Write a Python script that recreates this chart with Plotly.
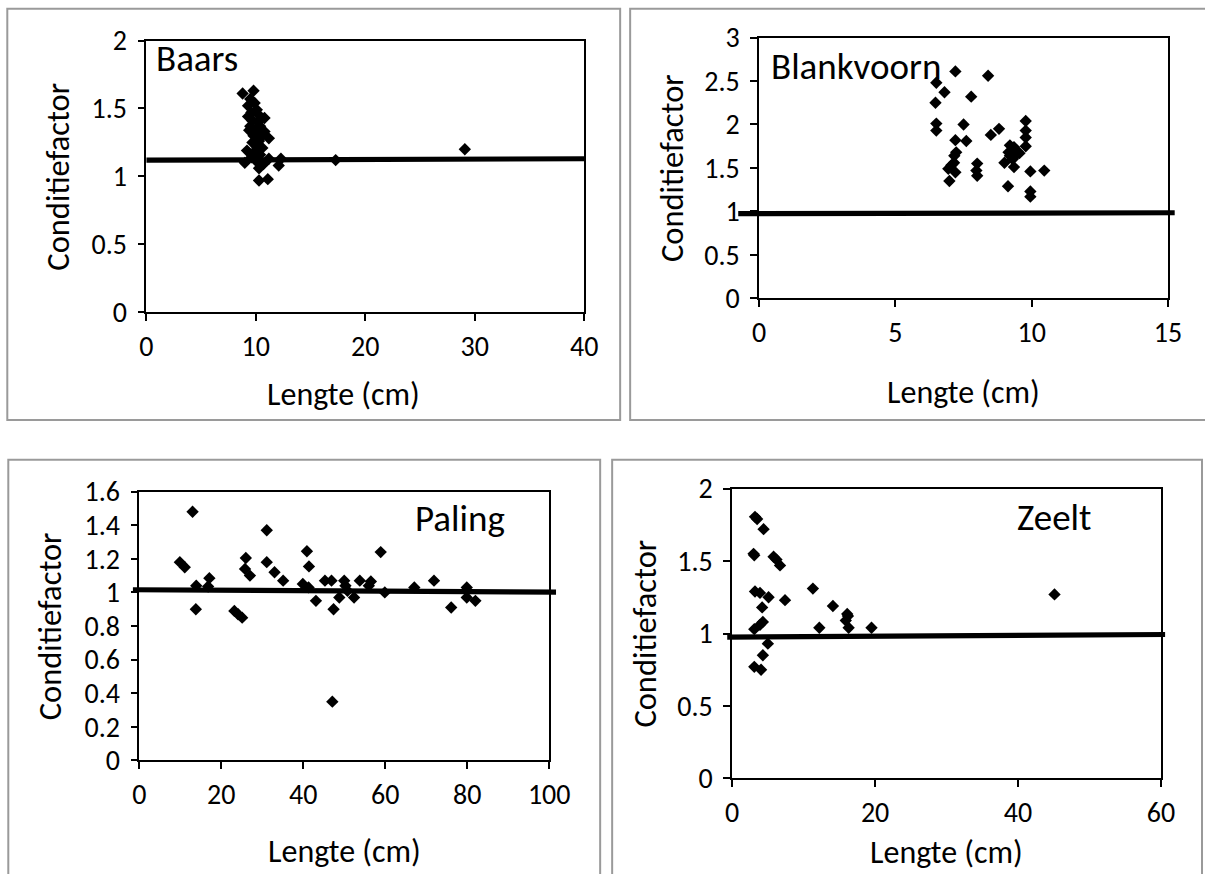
import plotly.graph_objects as go

W, H = 1205, 874

# ---------------- data ----------------
baars_len = [8.8, 9.8, 9.5, 9.3, 9.9, 9.6, 9.3, 10.1, 10.3, 10.8, 9.7, 10.2, 9.5, 10.4, 9.4, 10.0,
             10.8, 10.6, 9.8, 11.2, 9.7, 10.3, 10.1, 10.6, 10.1, 9.2, 9.9, 10.4, 9.6, 9.9, 11.2,
             12.3, 9.0, 10.2, 12.1, 10.3, 10.7, 10.3, 11.1, 17.3, 29.1]
baars_cf = [1.61, 1.63, 1.57, 1.52, 1.54, 1.47, 1.44, 1.49, 1.45, 1.43, 1.41, 1.40, 1.37, 1.37, 1.34, 1.33,
            1.33, 1.30, 1.30, 1.28, 1.25, 1.26, 1.22, 1.21, 1.20, 1.19, 1.17, 1.16, 1.14, 1.13, 1.13,
            1.13, 1.10, 1.10, 1.08, 1.06, 1.09, 0.97, 0.98, 1.12, 1.20]
baars_trend_len = [0, 40]
baars_trend_cf = [1.12, 1.13]

blank_len = [6.5, 6.47, 6.5, 6.5, 6.8, 7.2, 7.78, 8.4, 7.5, 7.2, 7.6, 7.23, 7.16, 7.05, 6.94, 7.2,
             7.15, 6.98, 8.0, 7.97, 8.0, 8.5, 8.8, 9.2, 9.15, 9.0, 9.3, 9.35, 9.4, 9.5, 9.2, 9.35,
             9.55, 9.78, 9.78, 9.78, 9.78, 9.13, 9.95, 10.46, 9.95, 9.95]
blank_cf = [2.48, 2.25, 2.01, 1.93, 2.37, 2.61, 2.32, 2.56, 2.0, 1.82, 1.81, 1.68, 1.64, 1.53, 1.49, 1.45,
            1.56, 1.35, 1.55, 1.47, 1.41, 1.88, 1.95, 1.76, 1.68, 1.56, 1.60, 1.51, 1.64, 1.68, 1.64, 1.74,
            1.67, 2.04, 1.93, 1.85, 1.75, 1.29, 1.46, 1.47, 1.23, 1.17]
blank_trend_len = [-0.77, 15.25]
blank_trend_cf = [0.975, 0.985]

paling_len = [9.9, 11.1, 13.0, 13.9, 13.8, 17.1, 16.8, 23.2, 24.1, 25.1, 26.0, 25.8, 27.0, 31.1, 31.1,
              33.0, 35.1, 39.9, 40.9, 41.4, 41.3, 43.1, 45.3, 46.9, 47.4, 47.1, 48.8, 50.0, 50.3, 50.8,
              52.4, 53.8, 56.5, 56.0, 58.9, 59.9, 67.1, 71.9, 76.1, 79.9, 79.9, 82.0]
paling_cf = [1.18, 1.15, 1.48, 1.04, 0.90, 1.085, 1.035, 0.89, 0.87, 0.85, 1.205, 1.14, 1.10, 1.37, 1.18,
             1.12, 1.07, 1.05, 1.245, 1.155, 1.03, 0.95, 1.07, 1.07, 0.90, 0.35, 0.97, 1.07, 1.04, 1.01,
             0.97, 1.07, 1.065, 1.04, 1.24, 1.00, 1.03, 1.07, 0.91, 1.03, 0.97, 0.95]
paling_trend_len = [-1.6, 101.7]
paling_trend_cf = [1.016, 1.002]

zeelt_len = [3.2, 3.5, 4.4, 3.0, 3.1, 5.8, 6.2, 6.7, 3.2, 3.9, 5.1, 7.4, 4.2, 4.3, 3.9, 3.1, 5.0, 4.3,
             3.1, 4.05, 11.3, 12.2, 14.1, 16.1, 16.2, 15.9, 16.3, 19.5, 45.1]
zeelt_cf = [1.805, 1.79, 1.72, 1.55, 1.54, 1.53, 1.51, 1.47, 1.29, 1.28, 1.25, 1.23, 1.18, 1.08, 1.06, 1.03,
            0.93, 0.85, 0.77, 0.75, 1.31, 1.04, 1.19, 1.135, 1.12, 1.09, 1.04, 1.04, 1.27]
zeelt_trend_len = [-0.7, 60.6]
zeelt_trend_cf = [0.975, 0.993]

species = ["Baars", "Blankvoorn", "Paling", "Zeelt"]
x_title = "Lengte (cm)"
y_title = "Conditiefactor"

FONT = "Carlito, Calibri, Lato, sans-serif"

# calibration of the photographed page: picture = offset + scale * figure pixel
OX, SX, OY, SY = 7.7, 0.977, 16.4, 0.964


def fx(px):
    return (px - OX) / SX


def fy(py):
    return (py - OY) / SY


# panel geometry in picture pixels: plot area left, right, top, bottom
panels = [
    dict(name=species[0], x=baars_len, y=baars_cf, tx=baars_trend_len, ty=baars_trend_cf,
         px=(147, 585, 40, 313), xr=[0, 40], xd=10, yr=[0, 2], yd=0.5,
         lab=(155, 58), xt=(-21, 79), yt=86),
    dict(name=species[1], x=blank_len, y=blank_cf, tx=blank_trend_len, ty=blank_trend_cf,
         px=(760, 1169, 37, 299), xr=[0, 15], xd=5, yr=[0, 3], yd=0.5,
         lab=(770, 66), xt=(0, 91), yt=85),
    dict(name=species[2], x=paling_len, y=paling_cf, tx=paling_trend_len, ty=paling_trend_cf,
         px=(140, 550, 493, 763), xr=[0, 100], xd=20, yr=[0, 1.6], yd=0.2,
         lab=(414, 520), xt=(0, 88), yt=87),
    dict(name=species[3], x=zeelt_len, y=zeelt_cf, tx=zeelt_trend_len, ty=zeelt_trend_cf,
         px=(733, 1162, 490, 781), xr=[0, 60], xd=20, yr=[0, 2], yd=0.5,
         lab=(1016, 519), xt=(0, 71), yt=86),
]

fig = go.Figure()
layout = dict(width=W, height=H, margin=dict(l=0, r=0, t=0, b=0, pad=0), autosize=False,
              paper_bgcolor="white", plot_bgcolor="rgba(0,0,0,0)", showlegend=False,
              font=dict(family=FONT, color="black"))
annotations = []
shapes = []

for i, p in enumerate(panels, start=1):
    l, r, t, b = p["px"]
    xd0, xd1 = fx(l) / W, fx(r) / W
    yd0, yd1 = 1 - fy(b) / H, 1 - fy(t) / H
    xa = "xaxis" if i == 1 else f"xaxis{i}"
    ya = "yaxis" if i == 1 else f"yaxis{i}"
    xs = "x" if i == 1 else f"x{i}"
    ys = "y" if i == 1 else f"y{i}"
    layout[xa] = dict(domain=[xd0, xd1], range=p["xr"], dtick=p["xd"], tick0=0, anchor=ys,
                      showgrid=False, zeroline=False, showline=True, linecolor="black", linewidth=1.5,
                      mirror=True, ticks="outside", ticklen=7, tickwidth=1.5, tickcolor="black",
                      tickfont=dict(size=28, family=FONT, color="black"), ticklabelstandoff=1)
    layout[ya] = dict(domain=[yd0, yd1], range=p["yr"], dtick=p["yd"], tick0=0, anchor=xs,
                      showgrid=False, zeroline=False, showline=True, linecolor="black", linewidth=1.5,
                      mirror=True, ticks="outside", ticklen=7, tickwidth=1.5, tickcolor="black",
                      tickfont=dict(size=28, family=FONT, color="black"), ticklabelstandoff=5)

    # overlay x-axis, same scale but wider domain, so the trend line may overhang the plot area
    x0, x1 = p["xr"]
    lo, hi = min(x0, p["tx"][0]), max(x1, p["tx"][1])
    scale = (xd1 - xd0) / (x1 - x0)
    oi = i + 4
    layout[f"xaxis{oi}"] = dict(domain=[xd0 + (lo - x0) * scale, xd1 + (hi - x1) * scale],
                                range=[lo, hi], anchor=ys, visible=False, showgrid=False, zeroline=False)

    fig.add_trace(go.Scatter(x=p["tx"], y=p["ty"], mode="lines", xaxis=f"x{oi}", yaxis=ys,
                             line=dict(color="black", width=5.2), hoverinfo="skip"))
    fig.add_trace(go.Scatter(x=p["x"], y=p["y"], mode="markers", xaxis=xs, yaxis=ys,
                             marker=dict(symbol="diamond", size=9.5, color="black",
                                         line=dict(width=0)), cliponaxis=False))

    annotations.append(dict(text=p["name"], xref="paper", yref="paper",
                            x=fx(p["lab"][0]) / W, y=1 - fy(p["lab"][1]) / H,
                            xanchor="left", yanchor="middle", showarrow=False,
                            font=dict(size=37, family=FONT, color="black")))
    annotations.append(dict(text=x_title, xref=f"{xs} domain", yref=f"{ys} domain", x=0.5, y=0,
                            xanchor="center", yanchor="middle", xshift=p["xt"][0] / SX,
                            yshift=-p["xt"][1] / SY, showarrow=False,
                            font=dict(size=32, family=FONT, color="black")))
    annotations.append(dict(text=y_title, xref=f"{xs} domain", yref=f"{ys} domain", x=0, y=0.5,
                            xanchor="center", yanchor="middle", xshift=-p["yt"] / SX, textangle=-90,
                            showarrow=False, font=dict(size=32.5, family=FONT, color="black")))

# outer chart-area frames (picture pixels)
frames = [(8, 621, 8, 421), (631, 1240, 8, 421), (9, 601, 461, 900), (613, 1203, 461, 900)]
for (fl, fr, ft, fb) in frames:
    shapes.append(dict(type="rect", xref="paper", yref="paper", x0=fx(fl) / W, x1=fx(fr) / W,
                       y0=1 - fy(fb) / H, y1=1 - fy(ft) / H, line=dict(color="#9a9a9a", width=2),
                       fillcolor="rgba(0,0,0,0)", layer="below"))

layout["annotations"] = annotations
layout["shapes"] = shapes
fig.update_layout(**layout)
fig.write_html(
    "out.html", config={"displayModeBar": False},
    post_script=(
        "document.documentElement.style.margin='0';document.documentElement.style.overflow='hidden';"
        "document.body.style.margin='0';document.body.style.padding='0';document.body.style.overflow='hidden';"
        "var gd=document.getElementById('{plot_id}');gd.style.position='fixed';gd.style.left='0px';"
        "gd.style.top='0px';"
    ),
)
